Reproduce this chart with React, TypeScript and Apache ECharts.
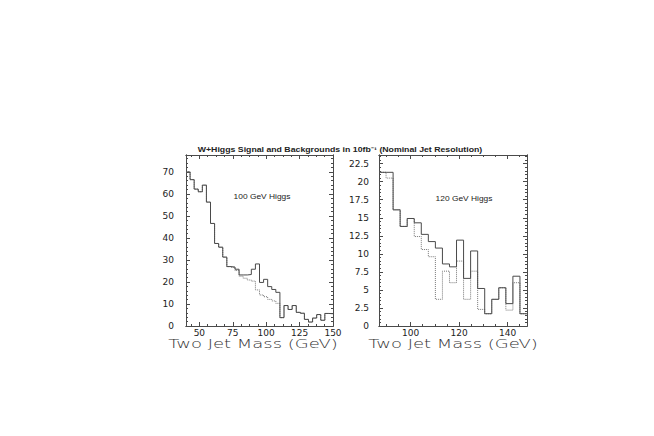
import React, { useEffect, useRef } from "react";
import * as echarts from "echarts";

const TITLE = "W+Higgs Signal and Backgrounds in 10fb⁻¹ (Nominal Jet Resolution)";
const X_TITLE = "Two Jet Mass (GeV)";
const LEFT_NOTE = "100 GeV Higgs";
const RIGHT_NOTE = "120 GeV Higgs";

// Left panel: 100 GeV Higgs (36 bins spanning the x range)
const leftRange = [40, 150];
const leftTotal = [
  70, 66.5, 62.2, 61, 64, 56.3, 46.6, 37.5, 35.8, 31.3, 27, 26.8, 25.8, 23.2, 23.2, 23.4, 25.8, 28.2,
  19.8, 21.2, 17.9, 16.6, 15.3, 3.8, 9.3, 7.5, 9.3, 6.2, 5.8, 3, 1.8, 3.6, 5.2, 2.6, 5.7, 5.6,
];
const leftBackground = [
  70, 66.5, 62.2, 61, 64, 56.3, 46.6, 37.5, 35.8, 31.3, 27, 26.6, 25.2, 22.6, 21.7, 20.9, 20.4, 16.4,
  14.1, 13.3, 12.1, 11.4, 10.3, 3.8, 9.3, 7.5, 9.3, 6.2, 5.8, 3, 1.8, 3.6, 5.2, 2.6, 5.7, 5.6,
];
const leftYMax = 77.7;
const leftXTicks = [50, 75, 100, 125, 150];
const leftYTicks = [0, 10, 20, 30, 40, 50, 60, 70];

// Right panel: 120 GeV Higgs (21 bins spanning the x range)
const rightRange = [87, 148];
const rightTotal = [
  21.3, 21.3, 16.1, 13.8, 14.9, 14.3, 12.7, 11.7, 10.8, 8.6, 8.2, 11.9, 6.6, 10.4, 5.2, 1.7, 3.7, 5.3,
  3.1, 6.9, 1.7,
];
const rightBackground = [
  21.3, 20.5, 16.1, 13.8, 14.9, 12.4, 10.6, 9.6, 3.7, 7.6, 6.0, 9.0, 3.7, 7.6, 2.3, 1.7, 3.7, 5.3, 2.2,
  6.0, 1.7,
];
const rightYMax = 23.7;
const rightXTicks = [100, 120, 140];
const rightYTicks = [0, 2.5, 5, 7.5, 10, 12.5, 15, 17.5, 20, 22.5];

const LINE = "#4a4a4a";
const TEXT = "#222";

function minorTicks(majors: number[], step: number, min: number, max: number) {
  const out: number[] = [];
  for (let k = Math.ceil(min / step - 1e-9); k * step <= max + 1e-9; k++) {
    const v = +(k * step).toFixed(4);
    if (!majors.some((m) => Math.abs(m - v) < 1e-6)) out.push(v);
  }
  return out;
}

function histPoints(range: number[], values: number[]) {
  const w = (range[1] - range[0]) / values.length;
  const pts = values.map((v, i) => [range[0] + i * w, v]);
  pts.push([range[1], values[values.length - 1]]);
  return pts;
}

function axisSet(
  dim: "x" | "y",
  grid: number,
  min: number,
  max: number,
  majors: number[],
  minors: number[],
  label: any
) {
  const pos = dim === "x" ? ["bottom", "top"] : ["left", "right"];
  const base = {
    type: "value",
    gridIndex: grid,
    min,
    max,
    splitLine: { show: false },
    axisLine: { show: true, onZero: false, lineStyle: { color: LINE, width: 1 } },
  };
  const tick = (vals: number[], len: number) => ({
    show: true,
    inside: true,
    length: len,
    customValues: vals,
    lineStyle: { color: LINE, width: 1 },
  });
  return [
    { ...base, position: pos[0], axisTick: tick(majors, 4), axisLabel: { ...label, customValues: majors } },
    { ...base, position: pos[0], axisTick: tick(minors, 2), axisLabel: { show: false } },
    { ...base, position: pos[1], axisTick: tick(majors, 4), axisLabel: { show: false } },
    { ...base, position: pos[1], axisTick: tick(minors, 2), axisLabel: { show: false } },
  ];
}

export default function App() {
  const ref = useRef<HTMLDivElement>(null);

  useEffect(() => {
    if (!ref.current) return;
    const chart = echarts.init(ref.current, null, { renderer: "svg" });

    const labelFont = { fontFamily: "DejaVu Sans", fontSize: 9, color: TEXT };

    const xAxes = [
      ...axisSet("x", 0, leftRange[0], leftRange[1], leftXTicks,
        minorTicks(leftXTicks, 6.25, leftRange[0], leftRange[1]), { ...labelFont, margin: 2 }),
      ...axisSet("x", 1, rightRange[0], rightRange[1], rightXTicks,
        minorTicks(rightXTicks, 5, rightRange[0], rightRange[1]), { ...labelFont, margin: 2 }),
    ];
    const yAxes = [
      ...axisSet("y", 0, 0, leftYMax, leftYTicks,
        minorTicks(leftYTicks, 2, 0, leftYMax), { ...labelFont, margin: 12 }),
      ...axisSet("y", 1, 0, rightYMax, rightYTicks,
        minorTicks(rightYTicks, 0.5, 0, rightYMax), { ...labelFont, margin: 10 }),
    ];

    const hist = (name: string, xi: number, data: number[][], dotted: boolean) => ({
      type: "line",
      name,
      xAxisIndex: xi,
      yAxisIndex: xi,
      step: "end",
      symbol: "none",
      data,
      lineStyle: { color: dotted ? "#777" : LINE, width: 1, type: dotted ? "dotted" : "solid" },
      z: dotted ? 2 : 3,
    });

    const titleText = (text: string, x: number, y: number, size: number, scaleX: number, weight: any, family: string, fill: string) => ({
      type: "text",
      x,
      y,
      scaleX,
      style: {
        text,
        fontSize: size,
        fontFamily: family,
        fontWeight: weight,
        fill,
        textAlign: "center",
        textVerticalAlign: "middle",
      },
    });

    chart.setOption({
      animation: false,
      backgroundColor: "#ffffff",
      grid: [
        { left: 186, top: 155, width: 147, height: 171 },
        { left: 379, top: 155, width: 148, height: 171 },
      ],
      xAxis: xAxes,
      yAxis: yAxes,
      series: [
        hist("Background (100 GeV)", 0, histPoints(leftRange, leftBackground), true),
        hist("Signal + Background (100 GeV)", 0, histPoints(leftRange, leftTotal), false),
        hist("Background (120 GeV)", 4, histPoints(rightRange, rightBackground), true),
        hist("Signal + Background (120 GeV)", 4, histPoints(rightRange, rightTotal), false),
      ],
      graphic: [
        titleText(TITLE, 340, 149.5, 7, 1.25, "bold", "Liberation Sans", TEXT),
        titleText(LEFT_NOTE, 262, 197, 7, 1.2, "normal", "Liberation Sans", TEXT),
        titleText(RIGHT_NOTE, 464, 198.5, 7, 1.2, "normal", "Liberation Sans", TEXT),
        titleText(X_TITLE, 253, 344, 12, 1.5, 200, "DejaVu Sans", "#333"),
        titleText(X_TITLE, 453, 344, 12, 1.5, 200, "DejaVu Sans", "#333"),
      ],
    });

    return () => chart.dispose();
  }, []);

  return (
    <div
      ref={ref}
      style={{ position: "fixed", left: 0, top: 0, width: 654, height: 436, background: "#fff" }}
    />
  );
}
